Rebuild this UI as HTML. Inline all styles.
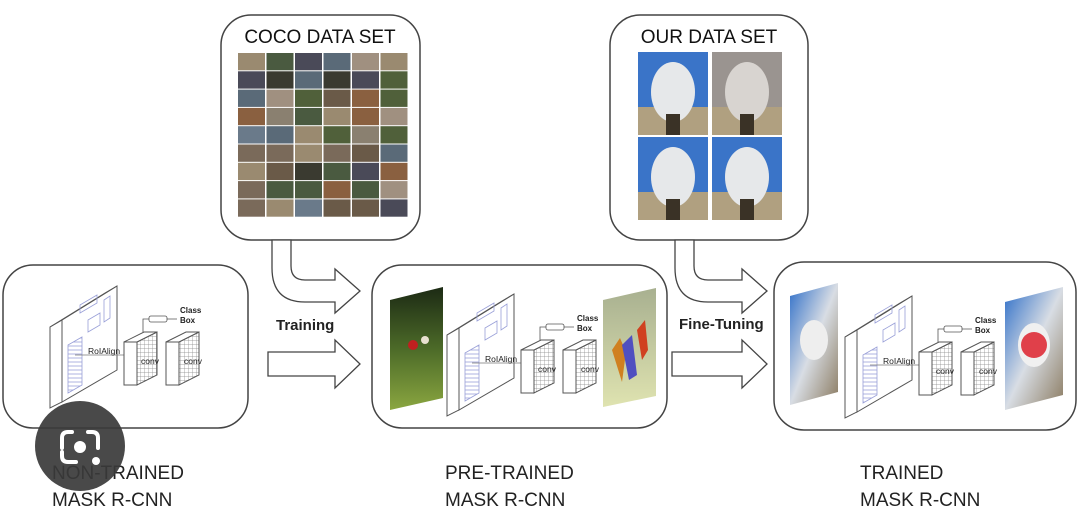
<!DOCTYPE html>
<html><head><meta charset="utf-8"><style>
html,body{margin:0;padding:0;background:#fff;width:1079px;height:509px;overflow:hidden}
svg{display:block;font-family:"Liberation Sans",Arial,sans-serif}
</style></head><body>
<svg id="s" width="1079" height="509" viewBox="0 0 1079 509" xmlns="http://www.w3.org/2000/svg">
<defs>
<pattern id="hatch" width="4" height="4" patternUnits="userSpaceOnUse">
<rect width="4" height="4" fill="#fff"/><path d="M0 0H4M0 0V4" stroke="#888" stroke-width="0.7"/>
</pattern>
<pattern id="hl" width="6" height="4" patternUnits="userSpaceOnUse">
<path d="M0 2H6" stroke="#9aa0d8" stroke-width="0.8"/>
</pattern>
<linearGradient id="grass" x1="0" y1="0" x2="0" y2="1"><stop offset="0" stop-color="#1c2a14"/><stop offset="0.5" stop-color="#4c6a28"/><stop offset="1" stop-color="#8aa640"/></linearGradient>
<linearGradient id="seg" x1="0" y1="0" x2="0" y2="1"><stop offset="0" stop-color="#a8b090"/><stop offset="1" stop-color="#dfe3b0"/></linearGradient>
<linearGradient id="sky" x1="0" y1="0" x2="1" y2="1"><stop offset="0" stop-color="#2f6fc8"/><stop offset="0.5" stop-color="#d8dde4"/><stop offset="1" stop-color="#8a7a60"/></linearGradient>
</defs>

<rect x="221" y="15" width="199" height="225" rx="30" fill="#fff" stroke="#444" stroke-width="1.5"/>
<text x="320" y="43" font-size="19" text-anchor="middle" fill="#111">COCO DATA SET</text>
<g id="coco"></g>
<rect x="610" y="15" width="198" height="225" rx="30" fill="#fff" stroke="#444" stroke-width="1.5"/>
<text x="709" y="43" font-size="19" text-anchor="middle" fill="#111">OUR DATA SET</text>
<g id="ours"></g>

<rect x="3" y="265" width="245" height="163" rx="30" fill="none" stroke="#444" stroke-width="1.5"/>
<rect x="372" y="265" width="295" height="163" rx="30" fill="none" stroke="#444" stroke-width="1.5"/>
<rect x="774" y="262" width="302" height="168" rx="30" fill="none" stroke="#444" stroke-width="1.5"/>

<g fill="#fff" stroke="#444" stroke-width="1.3">
<path d="M272 240 V268 Q272 302 305 302 H335 V313 L360 291 L335 269 V280 H305 Q291 280 291 266 V240 Z"/>
<path d="M268 352 H335 V340 L360 364 L335 388 V376 H268 Z"/>
<path d="M675 240 V268 Q675 302 708 302 H742 V313 L767 291 L742 269 V280 H708 Q694 280 694 266 V240 Z"/>
<path d="M672 352 H742 V340 L767 364 L742 388 V376 H672 Z"/>
</g>
<text x="276" y="330" font-size="15" font-weight="bold" fill="#222">Training</text>
<text x="679" y="329" font-size="15" font-weight="bold" fill="#222">Fine-Tuning</text>

<g id="n1"></g><g id="n2"></g><g id="n3"></g>

<polygon points="390,300 443,287 443,398 390,410" fill="url(#grass)"/>
<circle cx="413" cy="345" r="5" fill="#c02020"/><circle cx="425" cy="340" r="4" fill="#e8e0d0"/>
<polygon points="603,300 656,288 656,396 603,407" fill="url(#seg)"/>
<path d="M612 350 l8 -12 l6 14 l-4 30 z" fill="#d08020"/><path d="M622 345 l10 -10 l5 40 l-8 5 z" fill="#5050c0"/><path d="M637 330 l8 -10 l3 30 l-6 10 z" fill="#d04020"/>
<polygon points="790,296 838,283 838,392 790,405" fill="url(#sky)"/>
<ellipse cx="814" cy="340" rx="14" ry="20" fill="#eee"/>
<polygon points="1005,302 1063,287 1063,395 1005,410" fill="url(#sky)"/>
<ellipse cx="1034" cy="345" rx="16" ry="22" fill="#f0f0f0"/>
<circle cx="1034" cy="345" r="13" fill="#e0404a"/>

<text x="52" y="479" font-size="19" fill="#222">NON-TRAINED</text>
<text x="52" y="506" font-size="19" fill="#222">MASK R-CNN</text>
<text x="445" y="479" font-size="19" fill="#222">PRE-TRAINED</text>
<text x="445" y="506" font-size="19" fill="#222">MASK R-CNN</text>
<text x="860" y="479" font-size="19" fill="#222">TRAINED</text>
<text x="860" y="506" font-size="19" fill="#222">MASK R-CNN</text>

<circle cx="80" cy="446" r="45" fill="#3a3a3a" opacity="0.92"/>
<path d="M62 448 V438 Q62 432 68 432 H72 M88 432 H92 Q98 432 98 438 V448 M62 452 V456 Q62 462 68 462 H76" fill="none" stroke="#fff" stroke-width="4" stroke-linecap="round"/>
<circle cx="80" cy="447" r="6" fill="#fff"/><circle cx="96" cy="461" r="4" fill="#fff"/>
</svg>
<script>
var NS="http://www.w3.org/2000/svg";
function el(p,t,a,txt){var e=document.createElementNS(NS,t);for(var k in a)e.setAttribute(k,a[k]);if(txt)e.textContent=txt;p.appendChild(e);return e;}
var cols=["#6a5a48","#8a8070","#4a5a40","#9a8a70","#5a6a78","#3a3a30","#7a6a5a","#a09080","#50603a","#6a7a8a","#8a6040","#4a4a58"];
var g=document.getElementById("coco");var seed=3;function r(){seed=(seed*9301+49297)%233280;return seed/233280;}
for(var i=0;i<9;i++)for(var j=0;j<6;j++){el(g,"rect",{x:238+j*28.5,y:53+i*18.3,width:27,height:17.3,fill:cols[Math.floor(r()*cols.length)]});}
var o=document.getElementById("ours");
[[638,52],[712,52],[638,137],[712,137]].forEach(function(p,k){
el(o,"rect",{x:p[0],y:p[1],width:70,height:83,fill:k==1?"#9a9490":"#3a74c8"});
el(o,"rect",{x:p[0],y:p[1]+55,width:70,height:28,fill:"#b0a080"});
el(o,"ellipse",{cx:p[0]+35,cy:p[1]+40,rx:22,ry:30,fill:k==1?"#d8d4d0":"#e6e8ea"});
el(o,"rect",{x:p[0]+28,y:p[1]+62,width:14,height:21,fill:"#3a3226"});
});
function net(id,dx,dy){var g=document.getElementById(id);
var t=function(x,y){return (x+dx)+","+(y+dy);};
var pl=function(pts,f){el(g,"polygon",{points:pts.map(function(p){return t(p[0],p[1]);}).join(" "),fill:f,stroke:"#555","stroke-width":1});};
pl([[50,327],[62,320],[62,402],[50,408]],"#fff");
pl([[62,320],[117,286],[117,370],[62,402]],"#fff");
pl([[50,327],[105,293],[117,286],[62,320]],"#fff");
el(g,"polygon",{points:[t(68,345),t(82,337),t(82,385),t(68,393)].join(" "),fill:"url(#hl)",stroke:"#9aa0d8","stroke-width":0.8});
el(g,"polygon",{points:[t(80,305),t(97,295),t(97,303),t(80,313)].join(" "),fill:"none",stroke:"#9aa0d8","stroke-width":0.8});
el(g,"polygon",{points:[t(88,320),t(100,313),t(100,325),t(88,332)].join(" "),fill:"none",stroke:"#9aa0d8","stroke-width":0.8});
el(g,"polygon",{points:[t(104,300),t(110,296),t(110,318),t(104,322)].join(" "),fill:"none",stroke:"#9aa0d8","stroke-width":0.8});
el(g,"line",{x1:75+dx,y1:355+dy,x2:124+dx,y2:355+dy,stroke:"#777","stroke-width":0.8});
el(g,"text",{x:88+dx,y:354+dy,"font-size":8.5,fill:"#222"},"RoIAlign");
pl([[124,342],[137,342],[137,385],[124,385]],"#fff");
pl([[137,342],[157,332],[157,375],[137,385]],"url(#hatch)");
pl([[124,342],[144,332],[157,332],[137,342]],"#fff");
pl([[166,342],[179,342],[179,385],[166,385]],"#fff");
pl([[179,342],[199,332],[199,375],[179,385]],"url(#hatch)");
pl([[166,342],[186,332],[199,332],[179,342]],"#fff");
el(g,"text",{x:141+dx,y:364+dy,"font-size":8.5,fill:"#222"},"conv");
el(g,"text",{x:184+dx,y:364+dy,"font-size":8.5,fill:"#222"},"conv");
el(g,"path",{d:"M"+(143+dx)+" "+(332+dy)+" V"+(319+dy)+" H"+(177+dx),fill:"none",stroke:"#555","stroke-width":0.8});
el(g,"rect",{x:149+dx,y:316+dy,width:18,height:6,rx:2,fill:"#fff",stroke:"#555","stroke-width":0.8});
el(g,"text",{x:180+dx,y:313+dy,"font-size":8,"font-weight":"bold",fill:"#222"},"Class");
el(g,"text",{x:180+dx,y:323+dy,"font-size":8,"font-weight":"bold",fill:"#222"},"Box");
}
net("n1",0,0);net("n2",397,8);net("n3",795,10);
</script>
</body></html>
